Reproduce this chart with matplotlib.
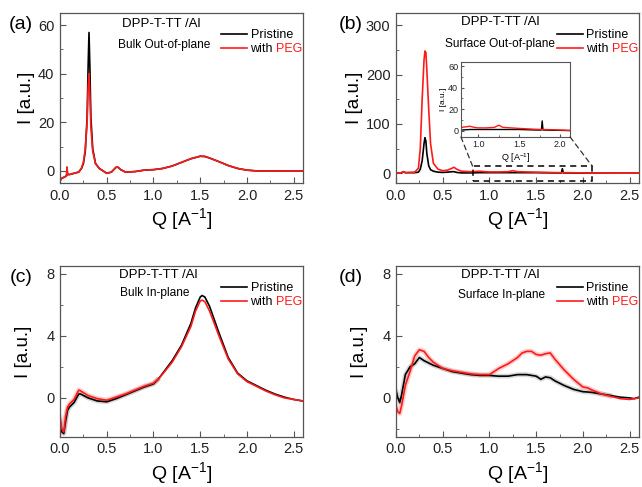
import numpy as np
import matplotlib.pyplot as plt
from matplotlib.patches import Rectangle, ConnectionPatch
from matplotlib.ticker import MultipleLocator

plt.rcParams['font.family'] = ['Liberation Sans', 'DejaVu Sans']

# ---- data ----
# (a) bulk out-of-plane
qa = [0.0, 0.02, 0.05, 0.07, 0.075, 0.08, 0.1, 0.15, 0.2, 0.23, 0.25, 0.27, 0.29, 0.30, 0.31,
      0.32, 0.33, 0.35, 0.38, 0.42, 0.46, 0.5, 0.55, 0.6, 0.62, 0.65, 0.7, 0.8, 0.9, 1.0,
      1.1, 1.2, 1.3, 1.4, 1.5, 1.55, 1.6, 1.7, 1.8, 1.9, 2.0, 2.1, 2.2, 2.4, 2.6]
ia_pristine = [-4, -3, -2.5, -2, 1.5, -1.5, -1.5, -1, -0.5, 1, 3, 8, 22, 42, 57,
               42, 22, 9, 3, 1, 0, -1, -0.5, 1.5, 1.5, 0.5, -0.5, -0.3, 0.3, 0.5,
               1, 2, 3.5, 5, 6, 5.9, 5.3, 3.8, 2.2, 1, 0.3, 0, -0.1, 0, 0]
ia_peg = [-4, -3, -2.5, -2, 1.5, -1.5, -1.5, -1, -0.5, 1.2, 3.5, 9, 20, 34, 40,
          31, 18, 8, 3, 1, 0, -1, -0.5, 1.5, 1.5, 0.5, -0.5, -0.3, 0.3, 0.5,
          1, 2, 3.5, 5, 6.1, 6, 5.3, 3.8, 2.2, 1, 0.3, 0, -0.1, 0, 0]

# (b) surface out-of-plane
qb = [0.0, 0.05, 0.08, 0.1, 0.2, 0.24, 0.26, 0.28, 0.30, 0.31, 0.32, 0.33, 0.35, 0.37,
      0.40, 0.45, 0.5, 0.55, 0.6, 0.62, 0.65, 0.7, 0.8, 0.9, 0.95, 1.0, 1.1, 1.2, 1.25,
      1.3, 1.5, 1.7, 1.77, 1.78, 1.79, 1.9, 2.0, 2.1, 2.3, 2.6]
ib_pristine = [0, 0, 3, 1, 1, 2, 8, 25, 60, 72, 65, 40, 15, 7,
               4, 2, 1.5, 2, 3, 3, 1.5, 0.5, 0.5, 1, 1, 1, 1, 1, 1,
               1, 1, 0.5, 0.5, 9, 0.5, 0.3, 0.2, 0, 0, 0]
ib_peg = [0, 0, 3, 1, 2, 10, 50, 150, 230, 248, 245, 210, 130, 60,
          20, 8, 5, 6, 10, 12, 8, 4, 3, 4, 3, 2.5, 2.5, 3, 5,
          3, 2, 1.2, 1, 1, 1, 0.8, 0.5, 0.2, 0, 0]

# (c) bulk in-plane
qc = [0.0, 0.02, 0.04, 0.06, 0.08, 0.1, 0.15, 0.2, 0.22, 0.3, 0.4, 0.5, 0.6, 0.7, 0.8,
      0.9, 1.0, 1.05, 1.1, 1.2, 1.3, 1.4, 1.45, 1.5, 1.52, 1.55, 1.6, 1.7, 1.8, 1.9,
      2.0, 2.1, 2.2, 2.3, 2.4, 2.5, 2.6]
ic_pristine = [-1.5, -2.2, -2.3, -1.5, -0.8, -0.6, -0.3, 0.25, 0.25, 0.0, -0.2, -0.25, -0.05,
               0.2, 0.45, 0.7, 0.9, 1.2, 1.6, 2.4, 3.4, 4.8, 5.8, 6.5, 6.6, 6.5, 5.9, 4.2,
               2.6, 1.6, 1.1, 0.8, 0.5, 0.25, 0.05, -0.1, -0.2]
ic_peg = [-1.2, -2.0, -2.2, -1.2, -0.6, -0.4, -0.1, 0.5, 0.45, 0.15, -0.05, -0.15, 0.05,
          0.25, 0.5, 0.75, 0.95, 1.2, 1.55, 2.3, 3.3, 4.6, 5.6, 6.25, 6.3, 6.2, 5.6, 4.0,
          2.5, 1.55, 1.05, 0.75, 0.45, 0.2, 0.0, -0.1, -0.2]

# (d) surface in-plane
qd = [0.0, 0.02, 0.04, 0.06, 0.1, 0.15, 0.2, 0.25, 0.3, 0.35, 0.4, 0.5, 0.6, 0.7, 0.8,
      0.9, 1.0, 1.05, 1.1, 1.2, 1.3, 1.35, 1.4, 1.45, 1.5, 1.55, 1.6, 1.65, 1.7, 1.8,
      1.9, 2.0, 2.05, 2.1, 2.2, 2.3, 2.4, 2.5, 2.55, 2.6]
id_pristine = [0.5, 0.0, -0.3, 0.2, 1.5, 2.0, 2.2, 2.6, 2.4, 2.25, 2.1, 1.9, 1.7, 1.6, 1.5,
               1.45, 1.45, 1.42, 1.4, 1.4, 1.5, 1.5, 1.5, 1.45, 1.4, 1.2, 1.35, 1.3, 1.1, 0.8,
               0.55, 0.4, 0.38, 0.35, 0.25, 0.15, 0.05, 0.0, -0.05, 0.05]
id_peg = [-0.5, -0.9, -1.0, -0.5, 0.8, 1.7, 2.7, 3.1, 3.0, 2.6, 2.3, 1.9, 1.75, 1.65, 1.55,
          1.5, 1.5, 1.7, 1.9, 2.2, 2.6, 2.9, 3.0, 3.0, 2.8, 2.75, 2.85, 2.9, 2.5, 1.8,
          1.2, 0.7, 0.65, 0.5, 0.25, 0.1, -0.05, -0.1, -0.05, 0.0]

RED = '#ff1a1a'
FRAME = '#555555'

fig = plt.figure(figsize=(6.42, 4.87), dpi=100)
ax_a = fig.add_axes([0.0935, 0.6242, 0.3785, 0.349])
ax_b = fig.add_axes([0.6168, 0.6242, 0.3785, 0.349])
ax_c = fig.add_axes([0.0935, 0.1033, 0.3785, 0.3505])
ax_d = fig.add_axes([0.6168, 0.1033, 0.3785, 0.3505])

# axes, tag, tag x, data, ylim, ticks, subtitle, title pos, subtitle pos, noisy part
panels = [
    (ax_a, '(a)', -0.16, qa, ia_pristine, ia_peg, (-5, 65), 20, 10,
     'Bulk Out-of-plane', (0.415, 0.935), (0.43, 0.81), 0),
    (ax_b, '(b)', -0.185, qb, ib_pristine, ib_peg, (-20, 325), 100, 50,
     'Surface Out-of-plane', (0.43, 0.945), (0.43, 0.82), 0),
    (ax_c, '(c)', -0.16, qc, ic_pristine, ic_peg, (-2.5, 8.5), 4, 2,
     'Bulk In-plane', (0.405, 0.947), (0.39, 0.84), 18),
    (ax_d, '(d)', -0.185, qd, id_pristine, id_peg, (-2.5, 8.5), 4, 2,
     'Surface In-plane', (0.43, 0.947), (0.435, 0.83), 36),
]

for ax, tag, tx, q, yp, yg, ylim, major, minor, sub, tpos, spos, nn in panels:
    if nn:
        # faint band standing in for the noisy raw signal
        ax.plot(q[:nn], yg[:nn], color=RED, lw=3.5, alpha=0.22, solid_capstyle='round')
        ax.plot(q[:nn], yp[:nn], color='gray', lw=3.5, alpha=0.3, solid_capstyle='round')
    ax.plot(q, yp, color='black', lw=1.2, label='Pristine')
    ax.plot(q, yg, color=RED, lw=1.2, label='with')
    ax.set_xlim(0, 2.6)
    ax.set_ylim(*ylim)
    ax.xaxis.set_major_locator(MultipleLocator(0.5))
    ax.xaxis.set_minor_locator(MultipleLocator(0.25))
    ax.yaxis.set_major_locator(MultipleLocator(major))
    ax.yaxis.set_minor_locator(MultipleLocator(minor))
    ax.tick_params(which='both', direction='in', top=False, right=False,
                   labelsize=10.5, colors='#222222', pad=4)
    ax.tick_params(which='major', length=4, color=FRAME)
    ax.tick_params(which='minor', length=2, color=FRAME)
    for s in ax.spines.values():
        s.set_color(FRAME)
        s.set_linewidth(0.9)
    ax.set_xlabel(r'Q [A$^{\mathregular{-1}}$]', fontsize=14, labelpad=3)
    ax.set_ylabel('I [a.u.]', fontsize=13.5, labelpad=2)
    ax.text(tx, 0.93, tag, transform=ax.transAxes, fontsize=14,
            ha='center', va='center')
    ax.text(tpos[0], tpos[1], 'DPP-T-TT /Al', transform=ax.transAxes, fontsize=9.5,
            ha='center', va='center')
    ax.text(spos[0], spos[1], sub, transform=ax.transAxes,
            fontsize=8.6, ha='center', va='center')
    leg = ax.legend(loc='upper left', bbox_to_anchor=(0.663, 0.905), frameon=False,
                    fontsize=9, handlelength=2.1, handletextpad=0.25,
                    labelspacing=0.15, borderaxespad=0, borderpad=0)
    with_txt = leg.get_texts()[1]
    ax.annotate('PEG', xy=(1, 0), xycoords=with_txt, xytext=(2.4, 0),
                textcoords='offset points', ha='left', va='bottom',
                fontsize=9, color=RED, zorder=20)

ax_c.yaxis.labelpad = 10
ax_d.yaxis.labelpad = 10

# inset of (b)
ins = fig.add_axes([0.718, 0.7187, 0.170, 0.154])
ins.plot(qb, ib_pristine, color='black', lw=1.0)
ins.plot(qb, ib_peg, color=RED, lw=1.0)
ins.set_xlim(0.79, 2.12)
ins.set_ylim(-6, 64)
ins.xaxis.set_major_locator(MultipleLocator(0.5))
ins.xaxis.set_minor_locator(MultipleLocator(0.25))
ins.yaxis.set_major_locator(MultipleLocator(20))
ins.yaxis.set_minor_locator(MultipleLocator(10))
ins.tick_params(which='both', direction='in', top=False, right=False,
                labelsize=6.5, colors='#222222', pad=2)
ins.tick_params(which='major', length=2.5, color=FRAME)
ins.tick_params(which='minor', length=1.5, color=FRAME)
for s in ins.spines.values():
    s.set_color(FRAME)
    s.set_linewidth(0.8)
ins.set_xlabel(r'Q [A$^{\mathregular{-1}}$]', fontsize=6.5, labelpad=2)
ins.set_ylabel('I [a.u.]', fontsize=6, labelpad=1)

# dashed zoom box and connectors
ax_b.add_patch(Rectangle((0.82, -15), 1.28, 29, fill=False, ls=(0, (4, 3)),
                         lw=1.1, ec='black', zorder=5))
for xa, xb in [(0, 0.82), (1, 2.10)]:
    cp = ConnectionPatch(xyA=(xa, 0), coordsA=ins.transAxes, xyB=(xb, 14),
                         coordsB=ax_b.transData, ls=(0, (4, 3)), lw=0.9, color='#333333')
    fig.add_artist(cp)

fig.savefig('out.png', dpi=100)
